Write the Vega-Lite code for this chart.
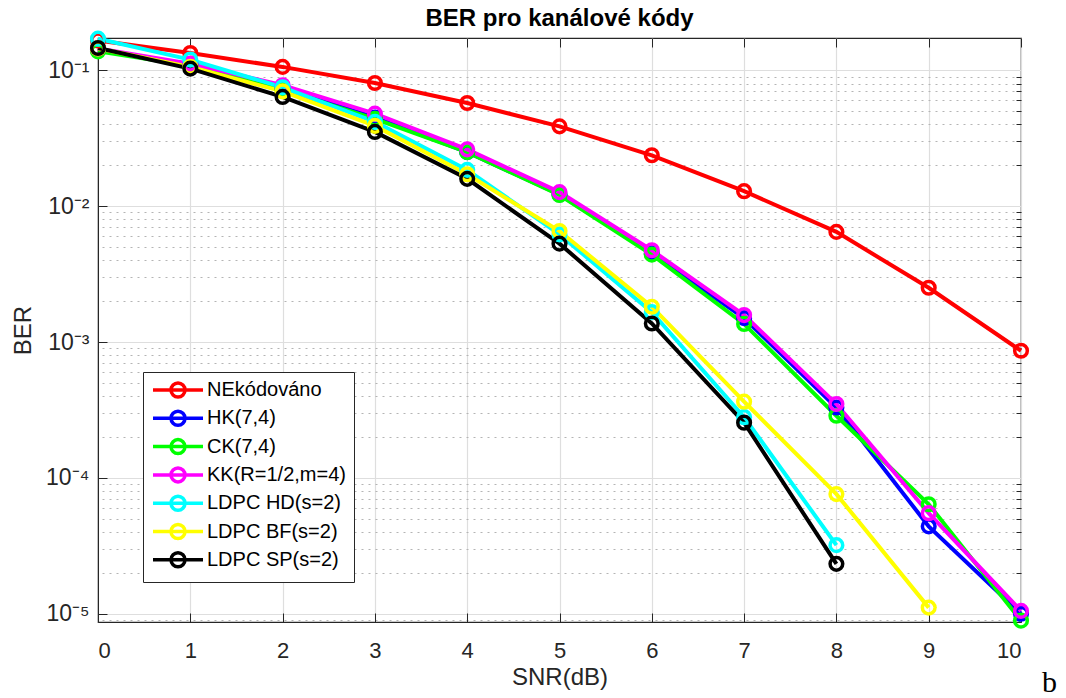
{
  "$schema": "https://vega.github.io/schema/vega-lite/v6.json",
  "width": 923,
  "height": 584,
  "autosize": "none",
  "padding": {"left": 98, "top": 38, "right": 45, "bottom": 76},
  "background": "white",
  "config": {
    "font": "Liberation Sans",
    "view": {"stroke": "#262626", "strokeWidth": 1.2},
    "axis": {"labelColor": "#262626", "titleColor": "#262626", "tickColor": "#262626", "domainColor": "#262626", "titleFontWeight": "normal"}
  },
  "title": {"text": "BER pro kanálové kódy", "fontSize": 24, "fontWeight": "bold", "color": "black", "offset": 8, "dy": 14, "anchor": "middle", "font": "Liberation Sans"},
  "data": {"values": [
    {"snr": 0, "ber": 0.166, "series": "NEkódováno"},
    {"snr": 1, "ber": 0.134, "series": "NEkódováno"},
    {"snr": 2, "ber": 0.106, "series": "NEkódováno"},
    {"snr": 3, "ber": 0.0807, "series": "NEkódováno"},
    {"snr": 4, "ber": 0.0575, "series": "NEkódováno"},
    {"snr": 5, "ber": 0.0387, "series": "NEkódováno"},
    {"snr": 6, "ber": 0.0237, "series": "NEkódováno"},
    {"snr": 7, "ber": 0.0129, "series": "NEkódováno"},
    {"snr": 8, "ber": 0.00647, "series": "NEkódováno"},
    {"snr": 9, "ber": 0.00251, "series": "NEkódováno"},
    {"snr": 10, "ber": 0.000863, "series": "NEkódováno"},
    {"snr": 0, "ber": 0.142, "series": "HK(7,4)"},
    {"snr": 1, "ber": 0.11, "series": "HK(7,4)"},
    {"snr": 2, "ber": 0.074, "series": "HK(7,4)"},
    {"snr": 3, "ber": 0.045, "series": "HK(7,4)"},
    {"snr": 4, "ber": 0.025, "series": "HK(7,4)"},
    {"snr": 5, "ber": 0.0122, "series": "HK(7,4)"},
    {"snr": 6, "ber": 0.0045, "series": "HK(7,4)"},
    {"snr": 7, "ber": 0.0015, "series": "HK(7,4)"},
    {"snr": 8, "ber": 0.00033, "series": "HK(7,4)"},
    {"snr": 9, "ber": 0.000044, "series": "HK(7,4)"},
    {"snr": 10, "ber": 0.00001, "series": "HK(7,4)"},
    {"snr": 0, "ber": 0.138, "series": "CK(7,4)"},
    {"snr": 1, "ber": 0.108, "series": "CK(7,4)"},
    {"snr": 2, "ber": 0.072, "series": "CK(7,4)"},
    {"snr": 3, "ber": 0.044, "series": "CK(7,4)"},
    {"snr": 4, "ber": 0.025, "series": "CK(7,4)"},
    {"snr": 5, "ber": 0.0121, "series": "CK(7,4)"},
    {"snr": 6, "ber": 0.0044, "series": "CK(7,4)"},
    {"snr": 7, "ber": 0.00136, "series": "CK(7,4)"},
    {"snr": 8, "ber": 0.000287, "series": "CK(7,4)"},
    {"snr": 9, "ber": 0.000064, "series": "CK(7,4)"},
    {"snr": 10, "ber": 0.0000089, "series": "CK(7,4)"},
    {"snr": 0, "ber": 0.145, "series": "KK(R=1/2,m=4)"},
    {"snr": 1, "ber": 0.112, "series": "KK(R=1/2,m=4)"},
    {"snr": 2, "ber": 0.0776, "series": "KK(R=1/2,m=4)"},
    {"snr": 3, "ber": 0.048, "series": "KK(R=1/2,m=4)"},
    {"snr": 4, "ber": 0.0262, "series": "KK(R=1/2,m=4)"},
    {"snr": 5, "ber": 0.0127, "series": "KK(R=1/2,m=4)"},
    {"snr": 6, "ber": 0.00474, "series": "KK(R=1/2,m=4)"},
    {"snr": 7, "ber": 0.00158, "series": "KK(R=1/2,m=4)"},
    {"snr": 8, "ber": 0.00035, "series": "KK(R=1/2,m=4)"},
    {"snr": 9, "ber": 0.000055, "series": "KK(R=1/2,m=4)"},
    {"snr": 10, "ber": 0.0000105, "series": "KK(R=1/2,m=4)"},
    {"snr": 0, "ber": 0.171, "series": "LDPC HD(s=2)"},
    {"snr": 1, "ber": 0.12, "series": "LDPC HD(s=2)"},
    {"snr": 2, "ber": 0.075, "series": "LDPC HD(s=2)"},
    {"snr": 3, "ber": 0.0417, "series": "LDPC HD(s=2)"},
    {"snr": 4, "ber": 0.0185, "series": "LDPC HD(s=2)"},
    {"snr": 5, "ber": 0.0062, "series": "LDPC HD(s=2)"},
    {"snr": 6, "ber": 0.00166, "series": "LDPC HD(s=2)"},
    {"snr": 7, "ber": 0.00028, "series": "LDPC HD(s=2)"},
    {"snr": 8, "ber": 0.000032, "series": "LDPC HD(s=2)"},
    {"snr": 0, "ber": 0.145, "series": "LDPC BF(s=2)"},
    {"snr": 1, "ber": 0.106, "series": "LDPC BF(s=2)"},
    {"snr": 2, "ber": 0.07, "series": "LDPC BF(s=2)"},
    {"snr": 3, "ber": 0.039, "series": "LDPC BF(s=2)"},
    {"snr": 4, "ber": 0.0172, "series": "LDPC BF(s=2)"},
    {"snr": 5, "ber": 0.00656, "series": "LDPC BF(s=2)"},
    {"snr": 6, "ber": 0.00182, "series": "LDPC BF(s=2)"},
    {"snr": 7, "ber": 0.000364, "series": "LDPC BF(s=2)"},
    {"snr": 8, "ber": 0.000076, "series": "LDPC BF(s=2)"},
    {"snr": 9, "ber": 0.0000111, "series": "LDPC BF(s=2)"},
    {"snr": 0, "ber": 0.146, "series": "LDPC SP(s=2)"},
    {"snr": 1, "ber": 0.103, "series": "LDPC SP(s=2)"},
    {"snr": 2, "ber": 0.0637, "series": "LDPC SP(s=2)"},
    {"snr": 3, "ber": 0.0352, "series": "LDPC SP(s=2)"},
    {"snr": 4, "ber": 0.0159, "series": "LDPC SP(s=2)"},
    {"snr": 5, "ber": 0.0053, "series": "LDPC SP(s=2)"},
    {"snr": 6, "ber": 0.00137, "series": "LDPC SP(s=2)"},
    {"snr": 7, "ber": 0.000255, "series": "LDPC SP(s=2)"},
    {"snr": 8, "ber": 0.0000233, "series": "LDPC SP(s=2)"}
  ]},
  "layer": [
    {
      "mark": {"type": "point", "opacity": 0},
      "encoding": {
        "x": {"field": "snr", "type": "quantitative", "scale": {"domain": [0, 10], "nice": false, "zero": false},
          "axis": {"orient": "top", "values": [0,1,2,3,4,5,6,7,8,9,10], "labels": false, "grid": false, "domain": false, "tickSize": -9, "title": null}},
        "y": {"field": "ber", "type": "quantitative", "scale": {"type": "log", "domain": [0.0000087, 0.173], "nice": false},
          "axis": {"orient": "right", "values": [0.000009,0.00002,0.00003,0.00004,0.00005,0.00006,0.00007,0.00008,0.00009,0.0002,0.0003,0.0004,0.0005,0.0006,0.0007,0.0008,0.0009,0.002,0.003,0.004,0.005,0.006,0.007,0.008,0.009,0.02,0.03,0.04,0.05,0.06,0.07,0.08,0.09],
            "labels": false, "domain": false, "tickSize": -5, "grid": true, "gridDash": [2, 5], "gridColor": "#b4b4b4", "gridWidth": 1, "title": null}}
      }
    },
    {
      "mark": {"type": "line", "strokeWidth": 4},
      "encoding": {
        "x": {"field": "snr", "type": "quantitative",
          "axis": {"orient": "bottom", "values": [0,1,2,3,4,5,6,7,8,9,10], "grid": true, "gridColor": "#dedede", "gridWidth": 1.2, "tickSize": -9, "labelPadding": 27, "labelFontSize": 22, "title": "SNR(dB)", "titleFontSize": 24, "titlePadding": 4}},
        "y": {"field": "ber", "type": "quantitative",
          "axis": {"orient": "left", "values": [0.00001, 0.0001, 0.001, 0.01, 0.1], "grid": true, "gridColor": "#dedede", "gridWidth": 1.2, "tickSize": -9, "labelPadding": 18, "labelFontSize": 23,
            "labelExpr": "datum.value >= 0.09 ? '10⁻¹' : datum.value >= 0.009 ? '10⁻²' : datum.value >= 0.0009 ? '10⁻³' : datum.value >= 0.00009 ? '10⁻⁴' : '10⁻⁵'",
            "title": "BER", "titleFontSize": 24, "titlePadding": 10}},
        "color": {"field": "series", "type": "nominal",
          "scale": {"domain": ["NEkódováno", "HK(7,4)", "CK(7,4)", "KK(R=1/2,m=4)", "LDPC HD(s=2)", "LDPC BF(s=2)", "LDPC SP(s=2)"],
            "range": ["#ff0000", "#0000ff", "#00ff00", "#ff00ff", "#00ffff", "#ffff00", "#000000"]},
          "legend": {"orient": "none", "legendX": 45, "legendY": 334, "title": null,
            "symbolType": "M-5,0L5,0M-1.4,0A1.4,1.4 0 1,0 1.4,0A1.4,1.4 0 1,0 -1.4,0",
            "symbolSize": 100, "symbolStrokeWidth": 3.5, "symbolFillColor": "transparent", "symbolOffset": 17,
            "labelFontSize": 20, "labelFont": "Liberation Sans", "labelColor": "black", "labelLimit": 400,
            "strokeColor": "#262626", "fillColor": "white", "padding": 8, "rowPadding": 0.3, "labelOffset": 19}}
      }
    },
    {
      "mark": {"type": "point", "filled": false, "size": 160, "strokeWidth": 3.5, "opacity": 1},
      "encoding": {
        "x": {"field": "snr", "type": "quantitative", "axis": null},
        "y": {"field": "ber", "type": "quantitative", "axis": null},
        "color": {"field": "series", "type": "nominal", "legend": null}
      }
    },
    {
      "data": {"values": [{"snr": 10.31, "ber": 0.0000031, "t": "b"}]},
      "mark": {"type": "text", "font": "Liberation Serif", "fontSize": 30, "color": "black", "baseline": "middle", "align": "center"},
      "encoding": {
        "x": {"field": "snr", "type": "quantitative", "axis": null},
        "y": {"field": "ber", "type": "quantitative", "axis": null},
        "text": {"field": "t"}
      }
    }
  ],
  "resolve": {"axis": {"x": "independent", "y": "independent"}}
}
